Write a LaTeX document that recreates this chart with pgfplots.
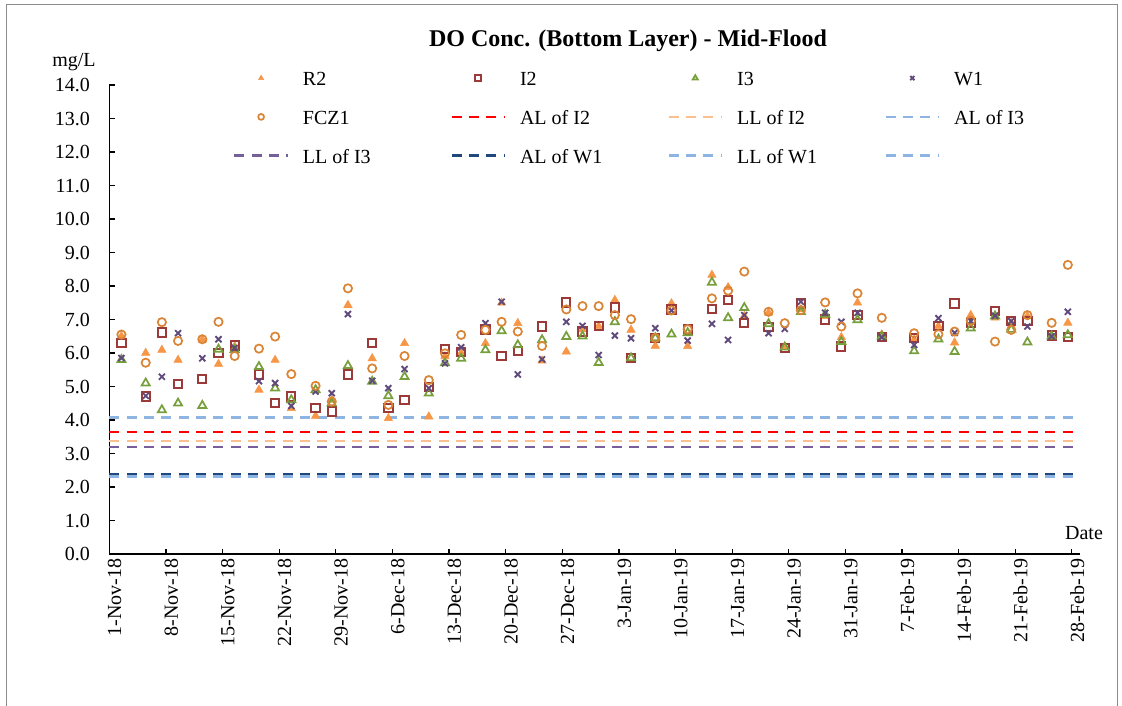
\documentclass[border=0pt]{standalone}
\usepackage{fontspec}
\setmainfont{Liberation Serif}
\usepackage{pgfplots}
\usepackage{pgfplotstable}
\pgfplotsset{compat=1.18}
\definecolor{cR2}{HTML}{F79646}
\definecolor{cI2}{HTML}{9B3A38}
\definecolor{cI3}{HTML}{77A03C}
\definecolor{cW1}{HTML}{604A7B}
\definecolor{cF}{HTML}{DA8436}
\definecolor{cALI2}{HTML}{FF0000}
\definecolor{cLLI2}{HTML}{FAC090}
\definecolor{cLB}{HTML}{8EB4E3}
\definecolor{cLLI3}{HTML}{76609A}
\definecolor{cALW1}{HTML}{1F497D}
\pgfplotstableread{
d R2 I2 I3 W1 F
1 6.50 6.30 5.80 5.85 6.55
4 6.00 4.70 5.10 4.72 5.71
6 6.09 6.61 4.30 5.29 6.92
8 5.79 5.07 4.50 6.59 6.36
11 6.40 5.22 4.43 5.84 6.41
13 5.67 6.01 6.11 6.41 6.93
15 6.20 6.22 6.10 6.15 5.91
18 4.90 5.36 5.59 5.16 6.13
20 5.79 4.50 4.95 5.10 6.49
22 4.35 4.70 4.60 4.42 5.37
25 4.12 4.35 4.90 4.85 5.02
27 4.60 4.25 4.50 4.80 4.55
29 7.43 5.36 5.62 7.16 7.93
32 5.84 6.29 5.15 5.17 5.54
34 4.05 4.35 4.72 4.95 4.45
36 6.29 4.60 5.29 5.52 5.91
39 4.10 4.98 4.80 4.95 5.19
41 5.90 6.12 5.70 5.69 5.99
43 6.00 6.04 5.84 6.17 6.54
46 6.29 6.70 6.09 6.89 6.69
48 7.50 5.91 6.66 7.53 6.93
50 6.89 6.06 6.24 5.36 6.64
53 5.77 6.79 6.39 5.81 6.21
56 6.04 7.51 6.49 6.93 7.30
58 6.70 6.64 6.50 6.81 7.40
60 6.80 6.81 5.71 5.94 7.40
62 7.58 7.36 6.93 6.52 7.13
64 6.69 5.84 5.85 6.44 7.01
67 6.21 6.45 6.45 6.74 6.45
69 7.48 7.30 6.56 7.27 7.27
71 6.20 6.70 6.60 6.37 6.71
74 8.33 7.31 8.11 6.87 7.63
76 7.96 7.58 7.05 6.39 7.86
78 7.10 6.90 7.35 7.13 8.43
81 7.20 6.77 6.87 6.59 7.23
83 6.19 6.15 6.17 6.72 6.89
85 7.30 7.48 7.23 7.53 7.28
88 7.10 7.00 7.15 7.20 7.51
90 6.47 6.19 6.34 6.93 6.79
92 7.50 7.13 6.99 7.20 7.78
95 6.55 6.47 6.50 6.47 7.05
99 6.40 6.44 6.06 6.24 6.59
102 6.80 6.81 6.41 7.04 6.56
104 6.31 7.48 6.04 6.60 6.64
106 7.13 6.90 6.74 6.95 6.96
109 7.05 7.25 7.10 7.11 6.34
111 6.90 6.96 6.70 6.95 6.69
113 7.10 6.96 6.32 6.79 7.13
116 6.50 6.52 6.50 6.50 6.90
118 6.90 6.47 6.54 7.23 8.63
}\datatable
\newcommand{\fs}{\fontsize{15}{18}\selectfont}
\begin{document}
\begin{tikzpicture}[x=0.75pt,y=0.75pt]
\useasboundingbox (0,0) rectangle (1122,706);
\draw[black!45, line width=0.75pt] (6,0) -- (6,701) -- (1117,701) -- (1117,0);
\begin{axis}[
  at={(81.975pt,114pt)}, anchor=south west,
  scale only axis, width=728pt, height=351.75pt,
  xmin=0, xmax=120, ymin=0, ymax=14,
  axis x line*=bottom, axis y line*=left,
  axis line style={line width=0.9pt},
  tick align=inside, major tick length=4pt,
  tick style={line width=0.9pt, black},
  xtick={0,7,...,119},
  xticklabels={1-Nov-18,8-Nov-18,15-Nov-18,22-Nov-18,29-Nov-18,6-Dec-18,13-Dec-18,20-Dec-18,27-Dec-18,3-Jan-19,10-Jan-19,17-Jan-19,24-Jan-19,31-Jan-19,7-Feb-19,14-Feb-19,21-Feb-19,28-Feb-19},
  xticklabel style={rotate=90, anchor=east, font=\fs, yshift=-4pt},
  ytick={0,1,...,14},
  /pgf/number format/assume math mode=true,
  yticklabel={\pgfmathprintnumber[fixed,fixed zerofill,precision=1]{\tick}},
  yticklabel style={font=\fs, xshift=-11pt},
  clip=false,
  legend columns=4,
  legend style={at={(0.1233,1.041)}, anchor=north west, draw=none, fill=none,
    font=\fs, nodes={inner sep=0pt}, column sep=10.5pt, row sep=15pt,
    /tikz/every even column/.append style={column sep=20.5pt}},
  legend image code/.code={\draw[mark repeat=2,mark phase=2,#1,mark size=2.2pt] plot coordinates {(0pt,0pt) (20pt,0pt) (40pt,0pt)};},
  hl/.style={line width=1.8pt, dash pattern=on 7.5pt off 5.5pt},
]
\addplot[only marks, mark=triangle*, mark size=3.6pt, color=cR2, fill=cR2] table[x expr=\thisrow{d}+0.5, y=R2] {\datatable};
\addlegendentry{\makebox[90pt][l]{\strut R2}}
\addplot[only marks, mark=square, mark size=3.1pt, color=cI2, line width=1.5pt] table[x expr=\thisrow{d}+0.5, y=I2] {\datatable};
\addlegendentry{\makebox[90pt][l]{\strut I2}}
\addplot[only marks, mark=triangle, mark size=3.5pt, color=cI3, line width=1.3pt] table[x expr=\thisrow{d}+0.5, y=I3] {\datatable};
\addlegendentry{\makebox[90pt][l]{\strut I3}}
\addplot[only marks, mark=x, mark size=3.2pt, color=cW1, line width=1.4pt] table[x expr=\thisrow{d}+0.5, y=W1] {\datatable};
\addlegendentry{\makebox[90pt][l]{\strut W1}}
\addplot[only marks, mark=o, mark size=3.1pt, color=cF, line width=1.3pt] table[x expr=\thisrow{d}+0.5, y=F] {\datatable};
\addlegendentry{\makebox[90pt][l]{\strut FCZ1}}
\addplot[hl, color=cALI2] coordinates {(0,3.64) (120,3.64)};
\addlegendentry{\makebox[90pt][l]{\strut AL of I2}}
\addplot[hl, color=cLLI2] coordinates {(0,3.38) (120,3.38)};
\addlegendentry{\makebox[90pt][l]{\strut LL of I2}}
\addplot[hl, color=cLB] coordinates {(0,4.08) (120,4.08)};
\addlegendentry{\makebox[90pt][l]{\strut AL of I3}}
\addplot[hl, color=cLLI3] coordinates {(0,3.19) (120,3.19)};
\addlegendentry{\makebox[90pt][l]{\strut LL of I3}}
\addplot[hl, color=cALW1] coordinates {(0,2.38) (120,2.38)};
\addlegendentry{\makebox[90pt][l]{\strut AL of W1}}
\addplot[hl, color=cLB] coordinates {(0,2.32) (120,2.32)};
\addlegendentry{\makebox[90pt][l]{\strut LL of W1}}
\addplot[hl, color=cLB] coordinates {(0,2.30) (120,2.30)};
\addlegendentry{\makebox[90pt][l]{\strut }}
\end{axis}
\node[font=\fontsize{18}{22}\selectfont\bfseries] at (628,665) {DO Conc. (Bottom Layer) - Mid-Flood};
\node[font=\fs] at (74,644) {mg/L};
\node[font=\fs] at (1084,173) {Date};
\end{tikzpicture}
\end{document}
